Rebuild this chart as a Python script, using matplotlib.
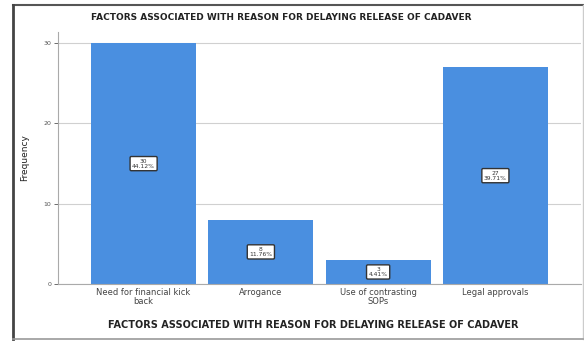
import matplotlib.pyplot as plt
from matplotlib.lines import Line2D

# 数据
categories = ['Need for financial kick\nback', 'Arrogance', 'Use of contrasting\nSOPs', 'Legal approvals']
counts = [30, 8, 3, 27]
title = 'FACTORS ASSOCIATED WITH REASON FOR DELAYING RELEASE OF CADAVER'

W, H = 584, 341
fig = plt.figure(figsize=(W / 100, H / 100), dpi=100)
fig.patch.set_facecolor('white')

# 坐标区位置（像素换算）
left, right, top, bottom = 58, 581, 32, 284
ax = fig.add_axes([left / W, 1 - bottom / H, (right - left) / W, (bottom - top) / H])

total = sum(counts)
x = range(len(categories))
bars = ax.bar(x, counts, width=0.894, color='#4a8fe0', zorder=2)

ax.set_xlim(-0.73, 3.73)
ax.set_ylim(0, 31.4)
ax.set_yticks([0, 10, 20, 30])
ax.set_xticks(list(x))
ax.set_xticklabels(categories, fontsize=6, color='#444444', linespacing=1.0)
ax.tick_params(axis='y', labelsize=4.5, colors='#555555', length=3, width=0.6, pad=2)
ax.tick_params(axis='x', length=0, pad=3)
ax.grid(axis='y', color='#d0d0d0', linewidth=0.8, zorder=0)

for s in ['top', 'right']:
    ax.spines[s].set_visible(False)
for s in ['left', 'bottom']:
    ax.spines[s].set_color('#aaaaaa')
    ax.spines[s].set_linewidth(0.8)

ax.set_ylabel('Frequency', fontsize=6.5, color='#222222', labelpad=10)

# 柱中标签：频数 + 百分比
for b, c in zip(bars, counts):
    ax.text(b.get_x() + b.get_width() / 2, c / 2, f'{c}\n{c / total * 100:.2f}%',
            ha='center', va='center', fontsize=4.3, color='#333333', linespacing=1.0,
            bbox=dict(boxstyle='round,pad=0.35,rounding_size=0.2', facecolor='white',
                      edgecolor='#333333', linewidth=1.0), zorder=3)

fig.text(0.5 * (92 + 470) / W, 1 - 17 / H, title, ha='center', va='center',
         fontsize=6.5, fontweight='bold', color='#222222')
fig.text(0.5 * (110 + 517) / W, 1 - 325 / H, title, ha='center', va='center',
         fontsize=7.0, fontweight='bold', color='#222222')

# 外框：左、上深色，右、下浅灰
def fline(x0, y0, x1, y1, color, lw):
    fig.add_artist(Line2D([x0 / W, x1 / W], [1 - y0 / H, 1 - y1 / H],
                          transform=fig.transFigure, color=color, linewidth=lw))

fline(13, 5, 583, 5, '#555555', 1.5)
fline(13, 5, 13, 339, '#444444', 2.0)
fline(583, 5, 583, 339, '#cccccc', 1.0)
fline(13, 339, 583, 339, '#999999', 1.2)

plt.savefig('out.png', dpi=100, facecolor='white')
plt.close()
